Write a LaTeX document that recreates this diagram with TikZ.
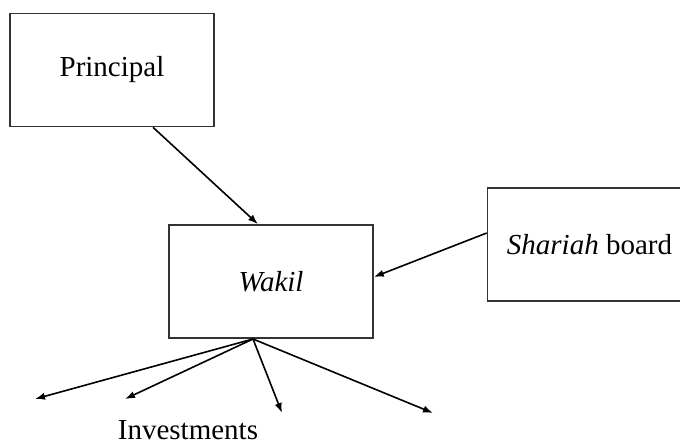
\documentclass[tikz,border=0pt]{standalone}
\usepackage{fontspec}
\setmainfont{Liberation Serif}
\usetikzlibrary{arrows.meta}

\begin{document}
\begin{tikzpicture}[x=0.5pt, y=-0.5pt, line width=0.8pt,
    party/.style={draw=black!80, minimum width=102pt, minimum height=56.5pt,
      inner sep=0pt, font=\fontsize{14.5}{17}\selectfont},
    flow/.style={-{Latex[length=5pt, width=3.6pt]}}]
  \useasboundingbox (0,0) rectangle (680,443);

  % Draw the boxes
  \node[party] (principal) at (112,70) {Principal};
  \node[party] (wakil) at (271,281.5) {\textit{Wakil}};
  \node[party] (shariah) at (589.5,244.5) {\textit{Shariah} board};

  % end points of the investment arrows
  \coordinate (fork) at (253,339);
  \coordinate (inv1) at (35,399);
  \coordinate (inv2) at (125,399);
  \coordinate (inv3) at (282,413);
  \coordinate (inv4) at (433,413);

  % Draw arrows
  \draw[flow] ([xshift=20.5pt]principal.south) -- ([xshift=-6.5pt]wakil.north);
  \draw[flow] ([yshift=5.75pt]shariah.west) -- ([yshift=2.25pt]wakil.east);
  \foreach \i in {1,...,4}
    \draw[flow] (fork) -- (inv\i);

  % label
  \node[font=\fontsize{14.5}{17}\selectfont] (investments) at (188,430) {Investments};
\end{tikzpicture}
\end{document}
